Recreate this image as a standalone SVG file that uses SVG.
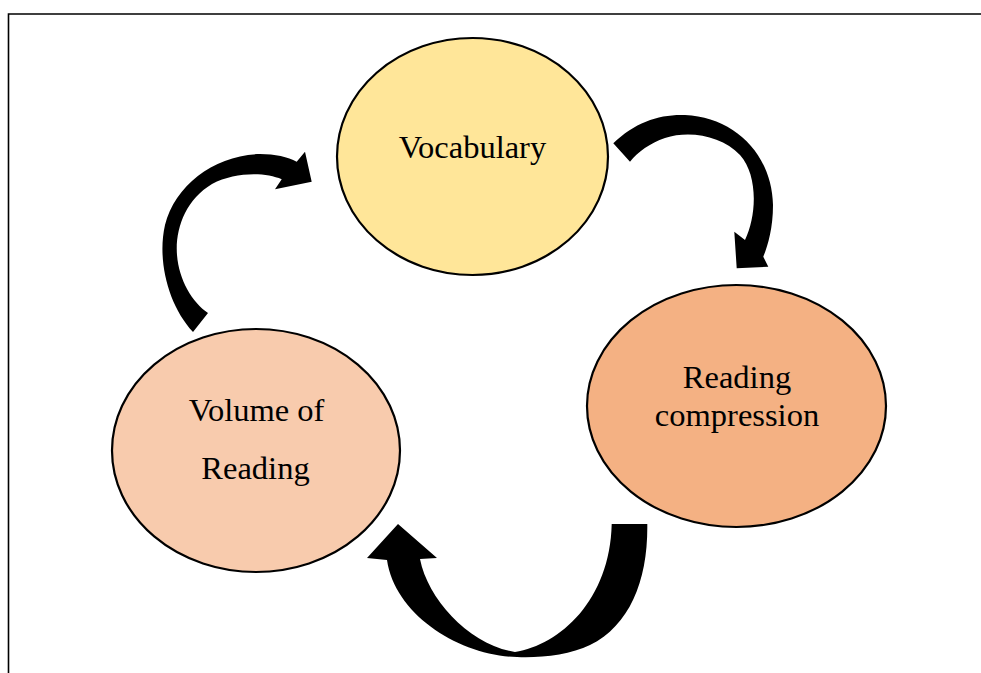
<svg xmlns="http://www.w3.org/2000/svg" width="981" height="673" viewBox="0 0 981 673">
<style>
.node ellipse{stroke:#000;stroke-width:2.2}
.lbl{font-family:"Liberation Serif","Times New Roman",serif;font-size:32.5px;fill:#000;text-anchor:middle}
.arrow{fill:#000;stroke:none}
.frame{stroke:#000;stroke-width:1.6;fill:none}
</style>
<rect width="981" height="673" fill="#fff"/>
<path class="frame" d="M8.5,673 V14 H981"/>
<g id="connectors">
<path class="arrow" d="M613.3,143.3 C635,122 660,114 685,115 C735,117 772,155 773,205 C773,228 768,245 763.3,256.7 L768.3,266.7 L736.7,268.3 L734.3,231.7 L745,240 C757,215 758,175 740,155 C722,136 690,130 665,138 C650,143 638,152 630,161.7 Z"/>
<path class="arrow" d="M611.7,524 L647.3,524 C648,580 630,625 590,645 C570,655 540,658 517,657 C460,656 395,615 387,560 L367,558 L398,524 L437,558 L420,559 C428,600 470,645 515,652 C560,645 610,600 611.7,524 Z"/>
<path class="arrow" d="M193,332 C168,305 157,260 165,225 C175,185 215,155 260,154 C275,154 288,157 296.7,161.7 L305,151.7 L311.7,181.7 L275,189.3 L281.7,179.3 C265,172 235,172 212,184 C185,200 175,230 177,255 C179,280 192,302 208,313 Z"/>
</g>
<g id="vocabulary" class="node">
<ellipse cx="472.5" cy="156.5" rx="135.5" ry="118.5" fill="#FFE699"/>
<text class="lbl" x="472.5" y="158">Vocabulary</text>
</g>
<g id="reading-compression" class="node">
<ellipse cx="736.5" cy="406" rx="149.5" ry="121" fill="#F4B183"/>
<text class="lbl" x="737" y="388">Reading</text>
<text class="lbl" x="737" y="426">compression</text>
</g>
<g id="volume-of-reading" class="node">
<ellipse cx="256" cy="450.5" rx="144" ry="121.5" fill="#F8CBAD"/>
<text class="lbl" x="256.5" y="421">Volume of</text>
<text class="lbl" x="255.5" y="479">Reading</text>
</g>
</svg>
